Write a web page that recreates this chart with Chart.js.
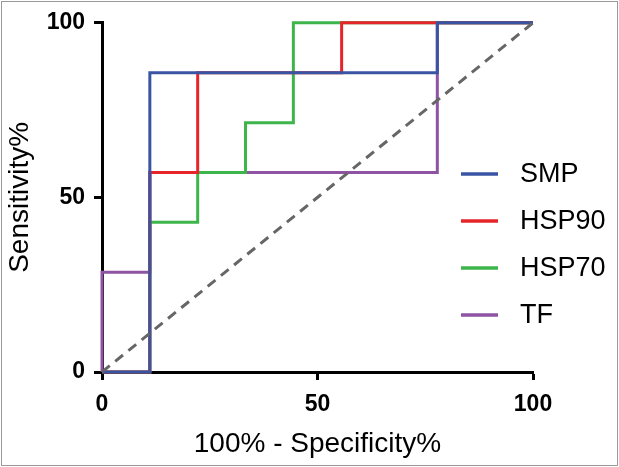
<!DOCTYPE html>
<html>
<head>
<meta charset="utf-8">
<script src="https://cdn.jsdelivr.net/npm/chart.js@4"></script>
<style>
  body { margin: 0; background: #fff; }
  #wrap { position: relative; width: 619px; height: 467px; }
  #frame { position: absolute; left: 1px; top: 1px; width: 615px; height: 463px; border: 1px solid #9a9a9a; pointer-events: none; }
</style>
</head>
<body>
<div id="wrap">
  <canvas id="rocChart" width="619" height="467"></canvas>
  <div id="frame"></div>
</div>

<script>
// ROC curves, x = 100% - specificity, y = sensitivity
const seriesNames = ['SMP', 'HSP90', 'HSP70', 'TF'];
const seriesColors = ['#3a54a4', '#e5252a', '#3db54b', '#8e53a2'];

const smpX = [0, 11.1, 11.1, 77.8, 77.8, 100];
const smpY = [0, 0, 85.7, 85.7, 100, 100];

const hsp90X = [0, 11.1, 11.1, 22.2, 22.2, 55.6, 55.6, 100];
const hsp90Y = [0, 0, 57.1, 57.1, 85.7, 85.7, 100, 100];

const hsp70X = [0, 11.1, 11.1, 22.2, 22.2, 33.3, 33.3, 44.4, 44.4, 100];
const hsp70Y = [0, 0, 42.9, 42.9, 57.1, 57.1, 71.4, 71.4, 100, 100];

const tfX = [0, 0, 11.1, 11.1, 77.8, 77.8, 100];
const tfY = [0, 28.6, 28.6, 57.1, 57.1, 100, 100];

const refX = [0, 100];
const refY = [0, 100];

const axisTicks = [0, 50, 100];

function toPoints(xs, ys) {
    return xs.map(function(x, i) { return { x: x, y: ys[i] }; });
}

const allX = [smpX, hsp90X, hsp70X, tfX];
const allY = [smpY, hsp90Y, hsp70Y, tfY];

const datasets = seriesNames.map(function(name, i) {
    return {
        label: name,
        data: toPoints(allX[i], allY[i]),
        borderColor: seriesColors[i],
        borderWidth: 3,
        pointRadius: 0,
        tension: 0,
        fill: false,
        clip: false,
        order: i + 1
    };
});

datasets.push({
    label: 'reference',
    data: toPoints(refX, refY),
    borderColor: '#666666',
    borderWidth: 3,
    borderDash: [10, 7],
    pointRadius: 0,
    fill: false,
    clip: false,
    order: 0
});

// legend drawn by hand so it can sit over the right edge of the plot
const sideLegend = {
    id: 'sideLegend',
    afterDraw(chart) {
        const ctx = chart.ctx;
        ctx.save();
        ctx.font = '27px "Liberation Sans", Arial, sans-serif';
        ctx.textBaseline = 'middle';
        ctx.textAlign = 'left';
        chart.data.datasets.forEach(function(ds, i) {
            if (ds.label === 'reference') return;
            const y = 174 + i * 47;
            ctx.strokeStyle = ds.borderColor;
            ctx.lineWidth = 3.5;
            ctx.beginPath();
            ctx.moveTo(461, y);
            ctx.lineTo(498, y);
            ctx.stroke();
            ctx.fillStyle = '#000';
            ctx.fillText(ds.label, 520, y + 1);
        });
        ctx.restore();
    }
};

const ctx = document.getElementById('rocChart').getContext('2d');

const rocChart = new Chart(ctx, {
    type: 'line',
    data: { datasets: datasets },
    options: {
        responsive: false,
        animation: false,
        layout: { padding: { top: 20, right: 86, left: 0, bottom: 0 } },
        plugins: {
            legend: { display: false },
            tooltip: { enabled: false }
        },
        scales: {
            x: {
                type: 'linear',
                min: 0,
                max: 100,
                afterBuildTicks: function(scale) {
                    scale.ticks = axisTicks.map(function(v) { return { value: v }; });
                },
                afterFit: function(scale) { scale.height = 95; },
                grid: { drawOnChartArea: false, drawTicks: true, tickLength: 8, tickWidth: 3, tickColor: '#000' },
                border: { display: true, color: '#000', width: 3 },
                ticks: {
                    color: '#000',
                    padding: 11,
                    maxRotation: 0,
                    font: { family: '"Liberation Sans", Arial, sans-serif', size: 23, weight: 'bold' }
                },
                title: {
                    display: true,
                    text: '100% - Specificity%',
                    color: '#000',
                    padding: { top: 0, bottom: 6 },
                    font: { family: '"Liberation Sans", Arial, sans-serif', size: 28 }
                }
            },
            y: {
                type: 'linear',
                min: 0,
                max: 100,
                afterBuildTicks: function(scale) {
                    scale.ticks = axisTicks.map(function(v) { return { value: v }; });
                },
                afterFit: function(scale) { scale.width = 102; },
                grid: { drawOnChartArea: false, drawTicks: true, tickLength: 8, tickWidth: 3, tickColor: '#000' },
                border: { display: true, color: '#000', width: 3 },
                ticks: {
                    color: '#000',
                    padding: 9,
                    font: { family: '"Liberation Sans", Arial, sans-serif', size: 23, weight: 'bold' }
                },
                title: {
                    display: true,
                    text: 'Sensitivity%',
                    color: '#000',
                    padding: { top: 3, bottom: 0 },
                    font: { family: '"Liberation Sans", Arial, sans-serif', size: 28 }
                }
            }
        }
    },
    plugins: [sideLegend]
});
</script>
</body>
</html>
